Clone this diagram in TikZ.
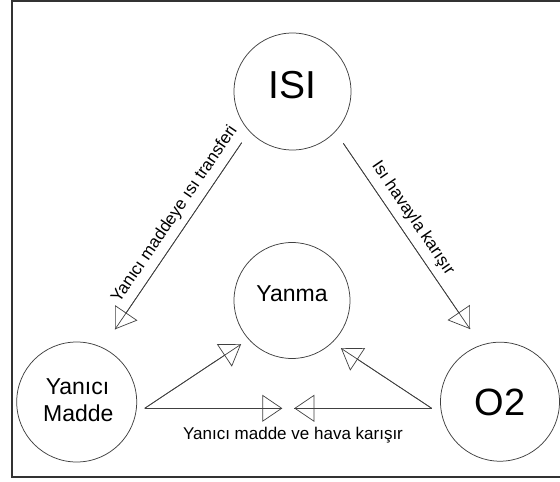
\documentclass[tikz,border=0pt]{standalone}
\usepackage{fontspec}
\setmainfont{Liberation Sans}
\usetikzlibrary{arrows.meta}
\begin{document}
\begin{tikzpicture}[x=1pt,y=-1pt,
  bubble/.style={draw=black!75, line width=0.75pt, circle, minimum size=#1, inner sep=0pt},
  conn/.style={draw=black!75, line width=0.7pt},
  tipconn/.style={draw=black!75, line width=0.7pt, -{Triangle[open,length=20pt,width=27pt]}},
  elabel/.style={font=\fontsize{17}{20}\selectfont, inner sep=0pt, sloped}
]
\useasboundingbox (0,0) rectangle (560,482);
\begin{scope}
\clip (0,0) rectangle (560,482);
\draw[line width=1.6pt, black!80] (12,1) rectangle (570,477);
\end{scope}
% circles
\node[bubble=117pt] (isi) at (292.5,91.5) {};
\node[bubble=116pt] (yanma) at (292,300.5) {};
\node[bubble=120pt] (yanici) at (76.7,402) {};
\node[bubble=119pt] (o2) at (500,401.7) {};
% texts
\node[anchor=base, inner sep=0pt, font=\fontsize{39}{44}\selectfont] (isit) at (292.5,98.3) {ISI};
\node[anchor=base, inner sep=0pt, font=\fontsize{23}{27}\selectfont] (yanmat) at (292,301.7) {Yanma};
\node[anchor=base, inner sep=0pt, font=\fontsize{23}{27}\selectfont] (yanicit1) at (77.5,394.6) {Yanıcı};
\node[anchor=base, inner sep=0pt, font=\fontsize{23}{27}\selectfont] (yanicit2) at (78.3,421) {Madde};
\node[anchor=base, inner sep=0pt, font=\fontsize{38}{44}\selectfont] (o2t) at (500,415) {O2};
% connector end points
\coordinate (a1s) at (241.7,142.7); \coordinate (a1e) at (115,329.3);
\coordinate (a2s) at (343.3,143.3); \coordinate (a2e) at (470,329);
\coordinate (ys) at (144.7,408.3);
\coordinate (a3e) at (241,344.3); \coordinate (a4e) at (282.3,408.3);
\coordinate (os) at (431.7,408.3);
\coordinate (a5e) at (294.3,408.3); \coordinate (a6e) at (341,348.3);
% connectors (line runs through the open tip)
\foreach \s/\e in {a1s/a1e, a2s/a2e, ys/a3e, ys/a4e, os/a5e, os/a6e}{
  \draw[conn] (\s) -- (\e);
  \draw[tipconn] (\s) -- (\e);
}
% labels
\path (a1s) -- node[elabel, pos=0.43, above=7pt] (l1) {Yanıcı maddeye ısı transferi} (a1e);
\path (a2s) -- node[elabel, pos=0.45, above=7pt] (l2) {Isı havayla karışır} (a2e);
\node[anchor=base, inner sep=0pt, font=\fontsize{17}{20}\selectfont] (l3) at (293,439.3) {Yanıcı madde ve hava karışır};
\end{tikzpicture}
\end{document}
